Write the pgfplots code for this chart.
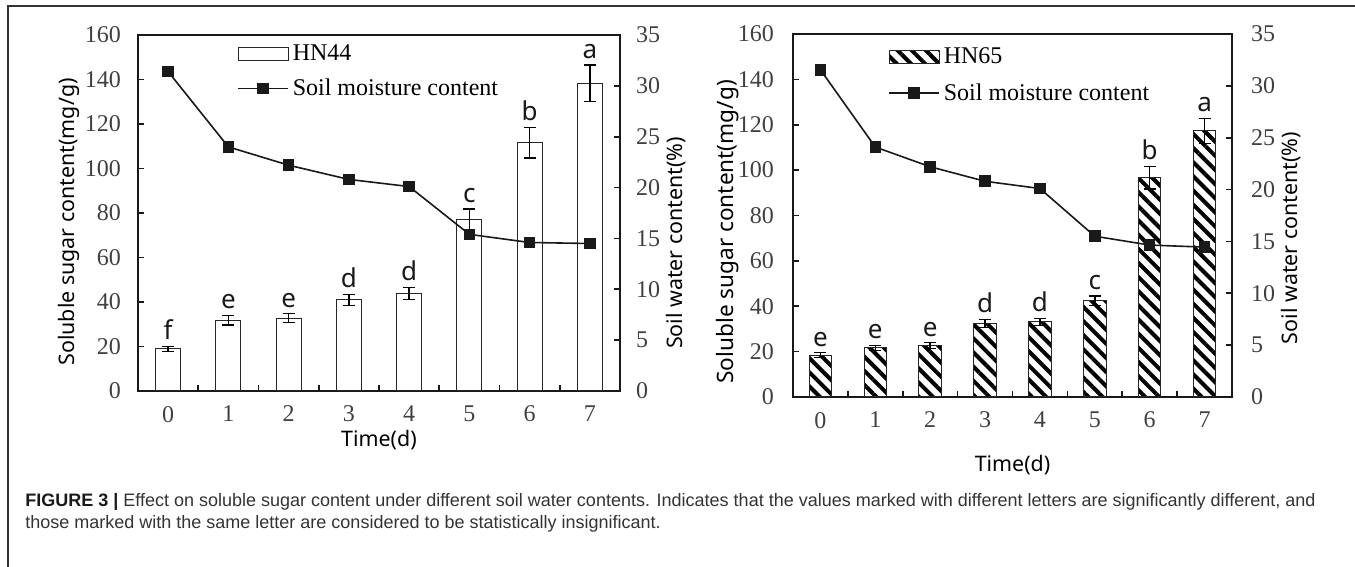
\documentclass[border=0pt]{standalone}
\usepackage{pgfplots}
\pgfplotsset{compat=1.18}
\usepackage{pgfplotstable}
\usepackage{fontspec}
\setmainfont{Liberation Serif}
\newfontfamily\labfont{Noto Sans}
\newfontfamily\capfont{Liberation Sans}
\usetikzlibrary{patterns.meta}

\pgfplotstableread{
x y err lab
0 18.9 1.2 f
1 31.8 2.2 e
2 32.7 2.0 e
3 40.9 2.5 d
4 43.9 2.7 d
5 77.2 4.6 c
6 111.6 6.8 b
7 138.3 8.2 a
}\leftbars
\pgfplotstableread{
x w
0 31.4
1 24.0
2 22.2
3 20.8
4 20.1
5 15.4
6 14.6
7 14.5
}\leftline
\pgfplotstableread{
x y err lab
0 18.5 1.0 e
1 21.6 1.1 e
2 22.7 1.2 e
3 32.4 1.7 d
4 33.1 1.6 d
5 42.4 2.1 c
6 96.7 5.0 b
7 117.3 5.5 a
}\rightbars
\pgfplotstableread{
x w
0 31.55
1 24.1
2 22.2
3 20.8
4 20.1
5 15.5
6 14.65
7 14.45
}\rightline

\pgfplotsset{
  common/.style={
    scale only axis,
    xmin=-0.5, xmax=7.5,
    tick align=inside,
    axis line style={line width=1.2pt, black!90},
    tick style={line width=0.8pt, black!90},
    major tick length=3pt, minor tick length=3pt,
    /pgf/number format/assume math mode=true,
    ticklabel style={font=\fontsize{12}{14}\selectfont, text=black!75},
    label style={font=\labfont\fontsize{10.7}{12}\selectfont},
  },
  barleg/.style={legend image code/.code={\draw[##1] (0pt,-3.25pt) rectangle (25pt,3.25pt);}},
  lineleg/.style={legend image code/.code={\draw[mark repeat=2, mark phase=2, ##1] plot coordinates {(0pt,0pt) (12.5pt,0pt) (25pt,0pt)};}},
  primary/.style={
    common,
    ymin=0, ymax=160,
    ytick={0,20,...,160},
    xtick={0,...,7},
    minor xtick={0.5,1.5,...,6.5},
    major x tick style={draw=none},
    xtick pos=bottom, ytick pos=left,
    yticklabel style={xshift=-5pt},
    xticklabel style={yshift=-4pt},
    legend style={draw=none, fill=none, inner sep=0pt,
      font=\fontsize{12}{14}\selectfont,
      legend cell align=left},
  },
  secondary/.style={
    common,
    ymin=0, ymax=35,
    ytick={0,5,...,35},
    axis x line=none,
    axis y line*=right,
    yticklabel style={xshift=4.5pt},
  },
  lineplot/.style={black!90, line width=0.8pt, mark=square*, mark size=2.5pt},
  letters/.style={draw=none, mark=none, forget plot,
    nodes near coords, point meta=explicit symbolic,
    nodes near coords style={font=\labfont\fontsize{13}{14}\selectfont,
      anchor=south, inner sep=1pt, yshift=2pt, text=black!90}},
}

\begin{document}
\begin{tikzpicture}
\path[use as bounding box] (0pt,0pt) rectangle (677.5pt,283.5pt);
\draw[black!80, line width=0.75pt] (4pt,-2pt) -- (4pt,280.5pt) -- (680pt,280.5pt);

% ---------------- left panel ----------------
\begin{axis}[primary, at={(69pt,88pt)}, anchor=south west,
  width=241pt, height=178pt,
  xlabel={Time(d)},
  xlabel style={at={(axis description cs:0.5,0)}, anchor=center, yshift=-24.5pt},
  ylabel={Soluble sugar content(mg/g)},
  ylabel style={at={(axis description cs:-0.143,0.475)}, anchor=center},
  legend style={at={(axis description cs:0.205,0.985)}, anchor=north west, row sep=3.5pt},
]
\addplot[ybar, bar width=12.5pt, fill=white, draw=black!85, line width=0.5pt, barleg,
  error bars/.cd, y dir=both, y explicit,
  error bar style={line width=0.7pt, black},
  error mark options={rotate=90, mark size=3pt, line width=0.7pt, black}]
  table[x=x, y=y, y error=err] {\leftbars};
\addlegendentry{HN44}
\addplot[letters] table[x=x, y expr=\thisrow{y}+\thisrow{err}, meta=lab] {\leftbars};
\addlegendimage{lineplot, lineleg}
\addlegendentry{Soil moisture content}
\end{axis}
\begin{axis}[secondary, at={(69pt,88pt)}, anchor=south west,
  width=241pt, height=178pt,
  ylabel={Soil water content(\%)},
  ylabel style={at={(axis description cs:1.116,0.416)}, anchor=center},
]
\addplot[lineplot] table[x=x, y=w] {\leftline};
\end{axis}

% ---------------- right panel ----------------
\begin{axis}[primary, at={(396.5pt,85pt)}, anchor=south west,
  width=219.5pt, height=181.5pt,
  xlabel={Time(d)},
  xlabel style={at={(axis description cs:0.5,0)}, anchor=center, yshift=-34pt},
  ylabel={Soluble sugar content(mg/g)},
  ylabel style={at={(axis description cs:-0.148,0.455)}, anchor=center,
    font=\labfont\fontsize{11.3}{12}\selectfont},
  yticklabel style={xshift=-1pt},
  legend style={at={(axis description cs:0.216,0.975)}, anchor=north west, row sep=4.5pt},
]
\addplot[ybar, bar width=11.2pt, preaction={fill=white}, draw=black!85, line width=0.5pt,
  pattern={Lines[angle=-45, distance=5pt, line width=2pt]}, barleg,
  error bars/.cd, y dir=both, y explicit,
  error bar style={line width=0.7pt, black},
  error mark options={rotate=90, mark size=3pt, line width=0.7pt, black}]
  table[x=x, y=y, y error=err] {\rightbars};
\addlegendentry{HN65}
\addplot[letters] table[x=x, y expr=\thisrow{y}+\thisrow{err}, meta=lab] {\rightbars};
\addlegendimage{lineplot, lineleg}
\addlegendentry{Soil moisture content}
\end{axis}
\begin{axis}[secondary, at={(396.5pt,85pt)}, anchor=south west,
  width=219.5pt, height=181.5pt,
  yticklabel style={xshift=1.5pt},
  ylabel={Soil water content(\%)},
  ylabel style={at={(axis description cs:1.135,0.438)}, anchor=center},
]
\addplot[lineplot] table[x=x, y=w] {\rightline};
\end{axis}

% ---------------- caption ----------------
\node[anchor=base west, inner sep=0pt, font=\capfont\fontsize{9}{11}\selectfont, text=black!80]
  at (12.5pt,30pt) {\textbf{\color{black!90}FIGURE 3 |} Effect on soluble sugar content under different soil water contents. Indicates that the values marked with different letters are significantly different, and};
\node[anchor=base west, inner sep=0pt, font=\capfont\fontsize{9}{11}\selectfont, text=black!80]
  at (12.5pt,19pt) {those marked with the same letter are considered to be statistically insignificant.};
\end{tikzpicture}
\end{document}
